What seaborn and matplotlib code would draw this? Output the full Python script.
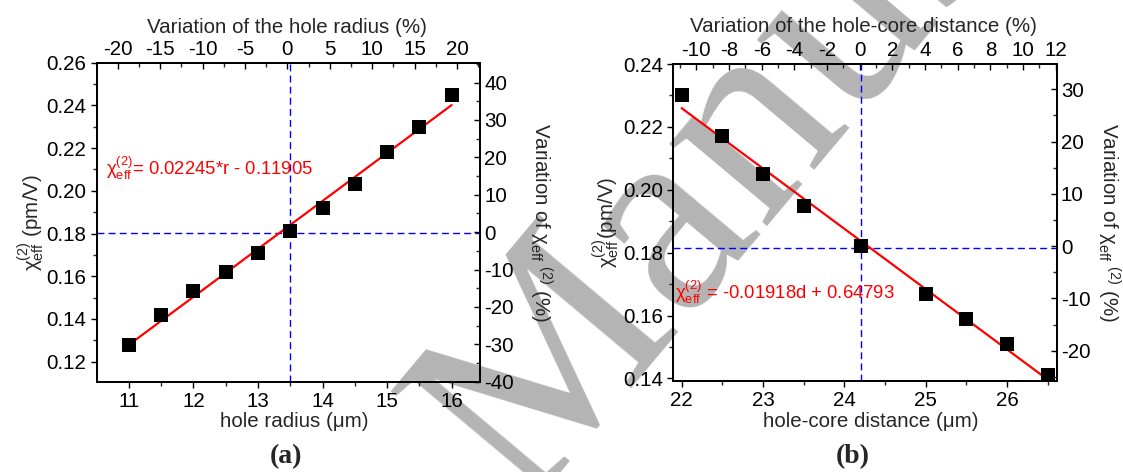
import matplotlib
matplotlib.use("Agg")
import numpy as np
import matplotlib.pyplot as plt
import seaborn as sns
from matplotlib.ticker import MultipleLocator

# ---------------- data ----------------
hole_radius = [11.0, 11.5, 12.0, 12.5, 13.0, 13.5, 14.0, 14.5, 15.0, 15.5, 16.0]
chi_a = [0.128, 0.142, 0.153, 0.162, 0.171, 0.181, 0.192, 0.203, 0.218, 0.230, 0.245]
slope_a, intercept_a = 0.02245, -0.11905
ref_radius, ref_chi_a = 13.5, 0.1803

hole_core = [22.0, 22.5, 23.0, 23.5, 24.2, 25.0, 25.5, 26.0, 26.5]
chi_b = [0.230, 0.217, 0.205, 0.195, 0.182, 0.167, 0.159, 0.151, 0.141]
slope_b, intercept_b = -0.01918, 0.64793
ref_dist, ref_chi_b = 24.2, 0.1816

eq_a = r"$\mathrm{\chi}_{\mathrm{eff}}^{(2)}$= 0.02245*r - 0.11905"
eq_b = r"$\mathrm{\chi}_{\mathrm{eff}}^{(2)}$ = -0.01918d + 0.64793"
ylab_a = r"$\mathrm{\chi}_{\mathrm{eff}}^{(2)}$ (pm/V)"
ylab_b = r"$\mathrm{\chi}_{\mathrm{eff}}^{(2)}$(pm/V)"
rlab = r"Variation of $\mathrm{\chi}_{\mathrm{eff}}\ {}^{(2)}$ (%)"

# ---------------- style ----------------
sns.set_theme(style="ticks")
plt.rcParams["font.family"] = ["Liberation Sans", "DejaVu Sans"]
plt.rcParams["mathtext.fontset"] = "custom"
plt.rcParams["mathtext.rm"] = "Liberation Sans"
plt.rcParams["mathtext.it"] = "Liberation Sans:italic"
plt.rcParams["mathtext.bf"] = "Liberation Sans:bold"
plt.rcParams["axes.unicode_minus"] = False

FS = 14.8
fig = plt.figure(figsize=(11.23, 4.72), dpi=100)
fig.patch.set_facecolor("white")

# watermark
fig.text(0.4654, -0.0752, "Manuscript", rotation=50, rotation_mode="anchor",
         ha="left", va="baseline", fontsize=200, family="Liberation Serif",
         color="#b4b4b4", zorder=0)


def style_axis(ax, direction):
    for sp in ax.spines.values():
        sp.set_linewidth(1.1)
        sp.set_color("black")
    ax.tick_params(which="major", direction=direction, length=4.5, width=1,
                   labelsize=FS, colors="black", pad=3)
    ax.tick_params(which="minor", direction=direction, length=3, width=1)
    ax.patch.set_alpha(0)


def panel(rect, x, y, slope, intercept, x0, y0, xlim, ylim, toplim, rightlim,
          xmaj, topmaj, topmin, rightmaj, xlabel, toplabel, ylabel, eq, eqxy,
          letter, letx, lab_left, lab_right, lab_bottom, lab_top):
    ax = fig.add_axes(rect)
    ax.set_zorder(2)
    xs = np.array([x[0], x[-1]])
    sns.lineplot(x=xs, y=slope * xs + intercept, ax=ax, color="red", lw=1.6, zorder=3)
    sns.scatterplot(x=x, y=y, ax=ax, marker="s", s=92, color="black",
                    linewidth=0, zorder=4)
    ax.axvline(x0, color="blue", lw=1, ls=(0, (5, 3)), zorder=2)
    ax.axhline(y0, color="blue", lw=1, ls=(0, (5, 3)), zorder=2)
    ax.set_xlim(xlim)
    ax.set_ylim(ylim)
    ax.xaxis.set_major_locator(MultipleLocator(xmaj))
    ax.xaxis.set_minor_locator(MultipleLocator(xmaj / 2))
    ax.yaxis.set_major_locator(MultipleLocator(0.02))
    ax.yaxis.set_minor_locator(MultipleLocator(0.01))
    ax.yaxis.set_major_formatter(lambda v, p: f"{v:.2f}")
    ax.set_xlabel(xlabel, fontsize=FS, va="center", ha="center")
    ax.xaxis.set_label_coords(0.515, lab_bottom)
    ax.set_ylabel(ylabel, fontsize=FS, va="center", ha="center")
    ax.yaxis.set_label_coords(lab_left, 0.5)
    style_axis(ax, "out")
    ax.text(eqxy[0], eqxy[1], eq, color="red", fontsize=13.3, ha="left",
            va="baseline", zorder=5)

    axt = ax.twiny()
    axt.set_xlim(toplim)
    axt.xaxis.set_major_locator(MultipleLocator(topmaj))
    axt.xaxis.set_minor_locator(MultipleLocator(topmin))
    axt.set_xlabel(toplabel, fontsize=FS, va="center", ha="center")
    axt.xaxis.set_label_coords(0.495, lab_top)
    style_axis(axt, "in")

    axr = ax.twinx()
    axr.set_ylim(rightlim)
    axr.yaxis.set_major_locator(MultipleLocator(rightmaj))
    axr.yaxis.set_minor_locator(MultipleLocator(rightmaj / 2))
    axr.set_ylabel(rlab, fontsize=FS, rotation=270, va="center", ha="center")
    axr.yaxis.set_label_coords(lab_right, 0.5)
    style_axis(axr, "in")

    fig.text(letx, 0.032, letter, fontsize=20, fontweight="bold",
             family="Liberation Serif", ha="center", va="center")
    return ax


panel([0.0864, 0.1913, 0.341, 0.6758], hole_radius, chi_a, slope_a, intercept_a,
      ref_radius, ref_chi_a, (10.505, 16.44), (0.1106, 0.26), (-22.46, 22.7),
      (-40, 45.3), 1, 5, 2.5, 10, r"hole radius (μm)",
      "Variation of the hole radius (%)", ylab_a, eq_a, (10.65, 0.2074),
      "(a)", 0.2544, -0.172, 1.159, -0.125, 1.112)

panel([0.5997, 0.1928, 0.3412, 0.6716], hole_core, chi_b, slope_b, intercept_b,
      ref_dist, ref_chi_b, (21.9, 26.61), (0.1392, 0.24), (-11.4, 12.05),
      (-25.8, 34.85), 1, 2, 1, 10, r"hole-core distance (μm)",
      "Variation of the hole-core distance (%)", ylab_b, eq_b, (21.92, 0.1652),
      "(b)", 0.759, -0.176, 1.1365, -0.128, 1.117)

fig.savefig("out.png", dpi=100)
